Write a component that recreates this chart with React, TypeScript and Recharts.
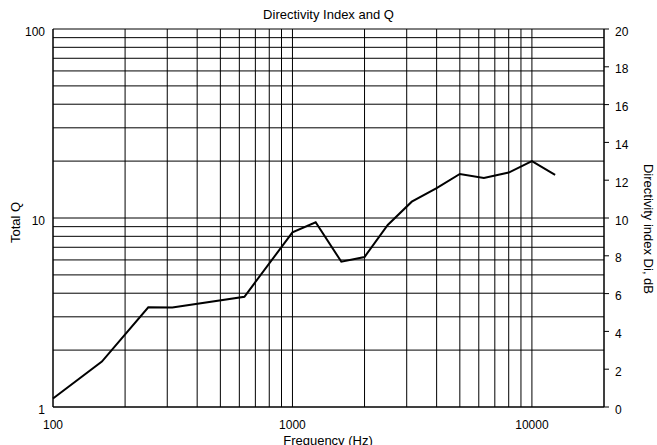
import React from "react";
import { LineChart, Line, XAxis, YAxis, CartesianGrid } from "recharts";

const FONT = '"Liberation Sans", Arial, sans-serif';

// 1/3-octave frequencies where the curve bends (Hz)
const frequencies = [100, 160, 250, 315, 630, 1000, 1250, 1600, 2000, 2500, 3150, 4000, 5000, 6300, 8000, 10000, 12500];
const totalQ = [1.11, 1.74, 3.37, 3.36, 3.83, 8.4, 9.49, 5.87, 6.22, 9.18, 12.2, 14.4, 17.1, 16.3, 17.4, 20.0, 16.9];

const xGridTicks = [100, 200, 300, 400, 500, 600, 700, 800, 900, 1000, 2000, 3000, 4000, 5000, 6000, 7000, 8000, 9000, 10000, 20000];
const xLabels = [100, 1000, 10000];
const qGridTicks = [1, 2, 3, 4, 5, 6, 7, 8, 9, 10, 20, 30, 40, 50, 60, 70, 80, 90, 100];
const qLabels = [1, 10, 100];
const diTicks = [0, 2, 4, 6, 8, 10, 12, 14, 16, 18, 20];

const data = frequencies.map((f, i) => ({ freq: f, q: totalQ[i] }));

const tickText = { fontSize: 12, fontFamily: FONT, fill: "#000" };

const XTick = ({ x, y, payload }: any) =>
  xLabels.includes(payload.value) ? (
    <text x={x} y={y + 14} textAnchor="middle" {...tickText}>
      {payload.value}
    </text>
  ) : (
    <g />
  );

const LeftTick = ({ x, y, payload }: any) =>
  qLabels.includes(payload.value) ? (
    <text x={x} y={y + 6.5} textAnchor="end" {...tickText}>
      {payload.value}
    </text>
  ) : (
    <g />
  );

const RightTick = ({ x, y, payload }: any) => (
  <text x={x} y={y + 6.5} textAnchor="start" {...tickText}>
    {payload.value}
  </text>
);

export default function App() {
  return (
    <div style={{ position: "absolute", left: 0, top: 0, width: 657, height: 445 }}>
      <LineChart
        width={657}
        height={445}
        data={data}
        margin={{ top: 29, right: 23, bottom: 8, left: 8 }}
      >
        <CartesianGrid yAxisId="left" stroke="#000" strokeWidth={1} />
        <XAxis
          dataKey="freq"
          type="number"
          scale="log"
          domain={[100, 20000]}
          ticks={xGridTicks}
          interval={0}
          tick={<XTick />}
          tickLine={false}
          axisLine={{ stroke: "#000" }}
          height={30}
        />
        <YAxis
          yAxisId="left"
          type="number"
          scale="log"
          domain={[1, 100]}
          ticks={qGridTicks}
          interval={0}
          tick={<LeftTick />}
          tickLine={false}
          axisLine={{ stroke: "#000" }}
          width={45}
        />
        <YAxis
          yAxisId="right"
          orientation="right"
          type="number"
          domain={[0, 20]}
          allowDataOverflow
          ticks={diTicks}
          interval={0}
          tick={<RightTick />}
          tickSize={5}
          tickMargin={6}
          tickLine={{ stroke: "#000" }}
          axisLine={{ stroke: "#000" }}
          width={30}
        />
        {/* invisible series so the dB axis is drawn */}
        <Line
          yAxisId="right"
          type="linear"
          dataKey="q"
          stroke="transparent"
          strokeWidth={0}
          dot={false}
          activeDot={false}
          legendType="none"
          isAnimationActive={false}
        />
        <Line
          yAxisId="left"
          type="linear"
          dataKey="q"
          stroke="#000"
          strokeWidth={2}
          dot={false}
          isAnimationActive={false}
        />
      </LineChart>
      <svg
        width={657}
        height={445}
        style={{ position: "absolute", left: 0, top: 0, pointerEvents: "none" }}
        fontFamily={FONT}
        fontSize={13}
        fill="#000"
      >
        <text x={328.5} y={19} textAnchor="middle">Directivity Index and Q</text>
        <text x={328} y={445} textAnchor="middle">Frequency (Hz)</text>
        <text transform="translate(19.5,222.5) rotate(-90)" textAnchor="middle">Total Q</text>
        <text transform="translate(643.5,229) rotate(90)" textAnchor="middle">Directivity index Di, dB</text>
      </svg>
    </div>
  );
}
